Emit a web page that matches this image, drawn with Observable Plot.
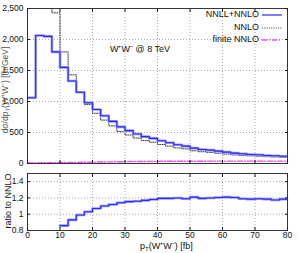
<!DOCTYPE html>
<html><head><meta charset="utf-8">
<script src="https://cdn.jsdelivr.net/npm/d3@7"></script>
<script src="https://cdn.jsdelivr.net/npm/@observablehq/plot@0.6"></script>
<style>
body{margin:0;background:#fff;font-family:"Liberation Sans",Arial,sans-serif;}
#wrap{position:relative;width:299px;height:253px;overflow:hidden;}
#wrap svg{overflow:visible;display:block;}
.t{position:absolute;font-size:9px;color:#111;white-space:nowrap;line-height:1;}
.sub{display:inline-block;font-size:6px;position:relative;top:2px;}
</style></head><body>
<div id="wrap">
  <div id="topPanel"></div>
  <div id="botPanel"></div>
</div>
<script>
// bin lower edges (GeV), bin width 2.5
const binWidthEnd = 80;
// NNLL+NNLO distribution [fb/GeV], one per bin from 0
const nnll = [1060,2065,2050,1800,1550,1330,1150,980,870,770,680,590,530,475,433,405,
              367,335,303,281,248,227,216,200,183,167,157,146,141,130,124,118];
// NNLO distribution, bins from 5 GeV (first bins off scale)
const nnloStart = 5;
const nnlo = [3000,2430,1800,1430,1160,950,810,700,607,515,460,410,370,343,
              307,280,252,236,205,190,180,166,151,139,132,123,118,110,106,100];
// finite NNLO (points)
const finX = [0,10,20,30,40,50,60,70,80];
const finY = [8,15,22,30,35,37,38,38,38];
// ratio NNLL+NNLO / NNLO, bins from 10 GeV
const ratioStart = 10;
const ratio = [0.86,0.93,0.99,1.03,1.07,1.10,1.12,1.14,1.155,1.16,1.17,1.18,1.195,1.195,
               1.20,1.19,1.21,1.195,1.20,1.205,1.21,1.205,1.19,1.185,1.19,1.185,1.175,1.185];
const xTicks = [0,10,20,30,40,50,60,70,80];
const yTicksTop = [0,500,1000,1500,2000,2500];
const yTicksBot = [0.8,1,1.2,1.4];

function steps(start, vals){
  const pts = vals.map((v,i)=>({x:start+2.5*i, y:v}));
  pts.push({x:binWidthEnd, y:vals[vals.length-1]});
  return pts;
}
const blueC = "#2a2aff", bandC = "#9a9aff";
const fontCss = {fontFamily:'"Liberation Sans",Arial,sans-serif', fontSize:"8.5px", color:"#111", background:"transparent"};

const topChart = Plot.plot({
  width:299, height:168, marginLeft:27, marginRight:12, marginTop:8, marginBottom:5,
  style: fontCss,
  x:{domain:[0,80]}, y:{domain:[0,2500]},
  marks:[
    Plot.gridX(xTicks.slice(1,-1), {stroke:"#888", strokeOpacity:0.7, strokeDasharray:"1,2"}),
    Plot.gridY(yTicksTop.slice(1,-1), {stroke:"#888", strokeOpacity:0.7, strokeDasharray:"1,2"}),
    Plot.line(finX.map((x,i)=>({x, y:finY[i]})), {x:"x", y:"y", stroke:"#ff44ff", strokeWidth:1.4, strokeDasharray:"5,2,1,2"}),
    Plot.line(steps(nnloStart, nnlo), {x:"x", y:"y", curve:"step-after", stroke:"#222", strokeWidth:0.9, strokeDasharray:"1,1.3", clip:true}),
    Plot.line(steps(0, nnll), {x:"x", y:"y", curve:"step-after", stroke:bandC, strokeWidth:2.6, clip:true}),
    Plot.line(steps(0, nnll), {x:"x", y:"y", curve:"step-after", stroke:blueC, strokeWidth:1.1, clip:true}),
    Plot.axisY(yTicksTop, {anchor:"left", tickSize:-3, tickPadding:7, label:null}),
    Plot.axisY(yTicksTop, {anchor:"right", tickSize:-3, tickFormat:()=>"", label:null}),
    Plot.axisX(xTicks, {anchor:"bottom", tickSize:-3, tickFormat:()=>"", label:null}),
    Plot.axisX(xTicks, {anchor:"top", tickSize:-3, tickFormat:()=>"", label:null}),
    Plot.frame({stroke:"#222", strokeWidth:0.9})
  ]
});
document.getElementById("topPanel").appendChild(topChart);

const botChart = Plot.plot({
  width:299, height:85, marginLeft:27, marginRight:12, marginTop:5, marginBottom:23,
  style: fontCss,
  x:{domain:[0,80]}, y:{domain:[0.8,1.5]},
  marks:[
    Plot.gridX(xTicks.slice(1,-1), {stroke:"#888", strokeOpacity:0.7, strokeDasharray:"1,2"}),
    Plot.gridY(yTicksBot.slice(1), {stroke:"#888", strokeOpacity:0.7, strokeDasharray:"1,2"}),
    Plot.line(steps(ratioStart, ratio), {x:"x", y:"y", curve:"step-after", stroke:bandC, strokeWidth:2.6, clip:true}),
    Plot.line(steps(ratioStart, ratio), {x:"x", y:"y", curve:"step-after", stroke:blueC, strokeWidth:1.1, clip:true}),
    Plot.axisY(yTicksBot, {anchor:"left", tickSize:-3, tickPadding:7, label:null, tickFormat:d=>String(d)}),
    Plot.axisY(yTicksBot, {anchor:"right", tickSize:-3, tickFormat:()=>"", label:null}),
    Plot.axisX(xTicks, {anchor:"bottom", tickSize:-3, tickPadding:4, label:null}),
    Plot.axisX(xTicks, {anchor:"top", tickSize:-3, tickFormat:()=>"", label:null}),
    Plot.frame({stroke:"#222", strokeWidth:0.9})
  ]
});
document.getElementById("botPanel").appendChild(botChart);

// text overlays
const wrap = document.getElementById("wrap");
function addText(html, css){
  const d = document.createElement("div");
  d.className = "t"; d.innerHTML = html;
  Object.assign(d.style, css);
  wrap.appendChild(d);
  return d;
}
addText("W⁺W⁻ @ 8 TeV", {left:"110px", top:"45px"});
const legend = [
  {label:"NNLL+NNLO", stroke:blueC, dash:"", w:1.2},
  {label:"NNLO", stroke:"#222", dash:"1,1.3", w:0.9},
  {label:"finite NNLO", stroke:"#ff44ff", dash:"5,2,1,2", w:1.3}
];
const rowY = [15, 28, 40];
legend.forEach((l,i)=>{
  addText(l.label, {right:(299-259)+"px", top:(rowY[i]-5)+"px"});
  addText(`<svg width="20" height="4" style="display:block"><line x1="0" x2="20" y1="2" y2="2" stroke="${l.stroke}" stroke-width="${l.w}" stroke-dasharray="${l.dash}"/></svg>`,
          {left:"262px", top:(rowY[i]-2)+"px"});
});
addText('p<span class="sub">T</span>(W⁺W⁻) [fb]', {left:"140px", top:"242px"});
addText("ratio to NNLO", {left:"8px", top:"201px", transform:"translate(-50%,-50%) rotate(-90deg)"});
addText('dσ/dp<span class="sub">T</span>(W⁺W⁻) [fb/GeV]', {left:"5px", top:"90px", transform:"translate(-50%,-50%) rotate(-90deg)", color:"#555", fontSize:"8.5px"});
</script>
</body></html>
